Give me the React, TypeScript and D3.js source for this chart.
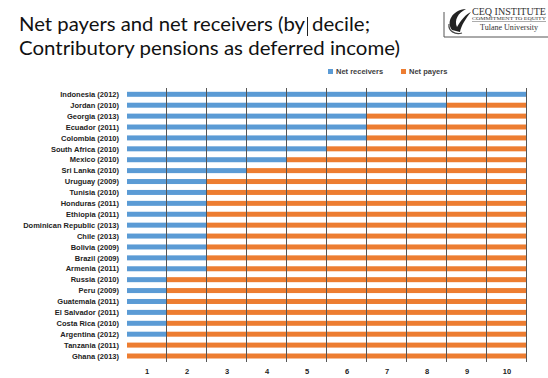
import React from "react";
import * as d3 from "d3";

const countries = [
  "Indonesia (2012)", "Jordan (2010)", "Georgia (2013)", "Ecuador (2011)", "Colombia (2010)",
  "South Africa (2010)", "Mexico (2010)", "Sri Lanka (2010)", "Uruguay (2009)", "Tunisia (2010)",
  "Honduras (2011)", "Ethiopia (2011)", "Dominican Republic (2013)", "Chile (2013)", "Bolivia (2009)",
  "Brazil (2009)", "Armenia (2011)", "Russia (2010)", "Peru (2009)", "Guatemala (2011)",
  "El Salvador (2011)", "Costa Rica (2010)", "Argentina (2012)", "Tanzania (2011)", "Ghana (2013)",
];
// number of deciles that are net receivers
const receiverDeciles = [10, 8, 6, 6, 6, 5, 4, 3, 2, 2, 2, 2, 2, 2, 2, 2, 2, 1, 1, 1, 1, 1, 1, 0, 0];
const deciles = [1, 2, 3, 4, 5, 6, 7, 8, 9, 10];
const seriesNames = ["Net receivers", "Net payers"];
const colors = ["#5B9BD5", "#ED7D31"];

export default function App() {
  const W = 548, H = 378;
  const x = d3.scaleLinear().domain([0, 10]).range([127, 527]);
  const y = d3.scalePoint<string>().domain(countries).range([94.3, 356]);
  const barH = 5;
  const labelFont = "'Liberation Sans', Arial, sans-serif";
  return (
    <svg width={W} height={H} style={{ position: "absolute", left: 0, top: 0, background: "#fff" }}>
      {/* Title */}
      <g fontFamily="Lato, 'Open Sans', sans-serif" fontSize={19} fill="#111">
        <text x={19} y={31} textLength={286} lengthAdjust="spacingAndGlyphs">Net payers and net receivers (by</text>
        <text x={312} y={31} textLength={58} lengthAdjust="spacingAndGlyphs">decile;</text>
        <text x={19} y={55} textLength={381} lengthAdjust="spacingAndGlyphs">Contributory pensions  as deferred income)</text>
      </g>
      <line x1={307.5} x2={307.5} y1={17} y2={36} stroke="#222" strokeWidth={1} />

      {/* Logo */}
      <g>
        <path d="M444,12 L444,37 L548,37" fill="none" stroke="#555" strokeWidth={1} />
        <path d="M452,30 C446,22 452,10 466,9 C458,13 454,20 457,27 C461,20 466,14 471,12 C466,18 461,26 460,32 Z" fill="#222" />
        <path d="M449,24 C448,31 455,35 462,33" fill="none" stroke="#444" strokeWidth={1.2} />
        <text x={509} y={15} textAnchor="middle" fontFamily="'Liberation Serif', serif" fontSize={10} fill="#333" textLength={74} lengthAdjust="spacingAndGlyphs">CEQ INSTITUTE</text>
        <text x={509} y={19.5} textAnchor="middle" fontFamily="'Liberation Serif', serif" fontSize={3.6} fill="#333" textLength={74} lengthAdjust="spacingAndGlyphs">COMMITMENT TO EQUITY</text>
        <line x1={472} x2={546} y1={21.5} y2={21.5} stroke="#888" strokeWidth={0.7} />
        <text x={509} y={30} textAnchor="middle" fontFamily="'Liberation Serif', serif" fontSize={8} fill="#333" textLength={58} lengthAdjust="spacingAndGlyphs">Tulane University</text>
      </g>

      {/* Legend */}
      <g fontFamily={labelFont} fontSize={7.5} fontWeight="bold" fill="#404040">
        {seriesNames.map((s, i) => {
          const lx = i === 0 ? 328 : 401;
          return (
            <g key={s}>
              <rect x={lx} y={69} width={5} height={5} fill={colors[i]} />
              <text x={lx + 8} y={74}>{s}</text>
            </g>
          );
        })}
      </g>

      {/* Bars */}
      {countries.map((c, i) => {
        const cy = y(c)!;
        const r = receiverDeciles[i];
        return (
          <g key={c}>
            {r > 0 && (
              <rect x={x(0)} y={cy - barH / 2} width={x(r) - x(0)} height={barH} fill={colors[0]} />
            )}
            {r < 10 && (
              <rect x={x(r)} y={cy - barH / 2} width={x(10) - x(r)} height={barH} fill={colors[1]} />
            )}
          </g>
        );
      })}

      {/* Grid lines at decile boundaries */}
      {deciles.map((d) => (
        <line key={d} x1={Math.round(x(d)) - 0.5} x2={Math.round(x(d)) - 0.5} y1={88} y2={362} stroke="#555" strokeWidth={1} />
      ))}

      {/* Country labels */}
      <g fontFamily={labelFont} fontSize={7.5} fontWeight="bold" fill="#222" textAnchor="end">
        {countries.map((c) => (
          <text key={c} x={119} y={y(c)! + 2.7}>{c}</text>
        ))}
      </g>

      {/* Decile labels */}
      <g fontFamily={labelFont} fontSize={7.5} fontWeight="bold" fill="#222" textAnchor="middle">
        {deciles.map((d) => (
          <text key={d} x={x(d - 0.5)} y={374}>{d}</text>
        ))}
      </g>
    </svg>
  );
}
